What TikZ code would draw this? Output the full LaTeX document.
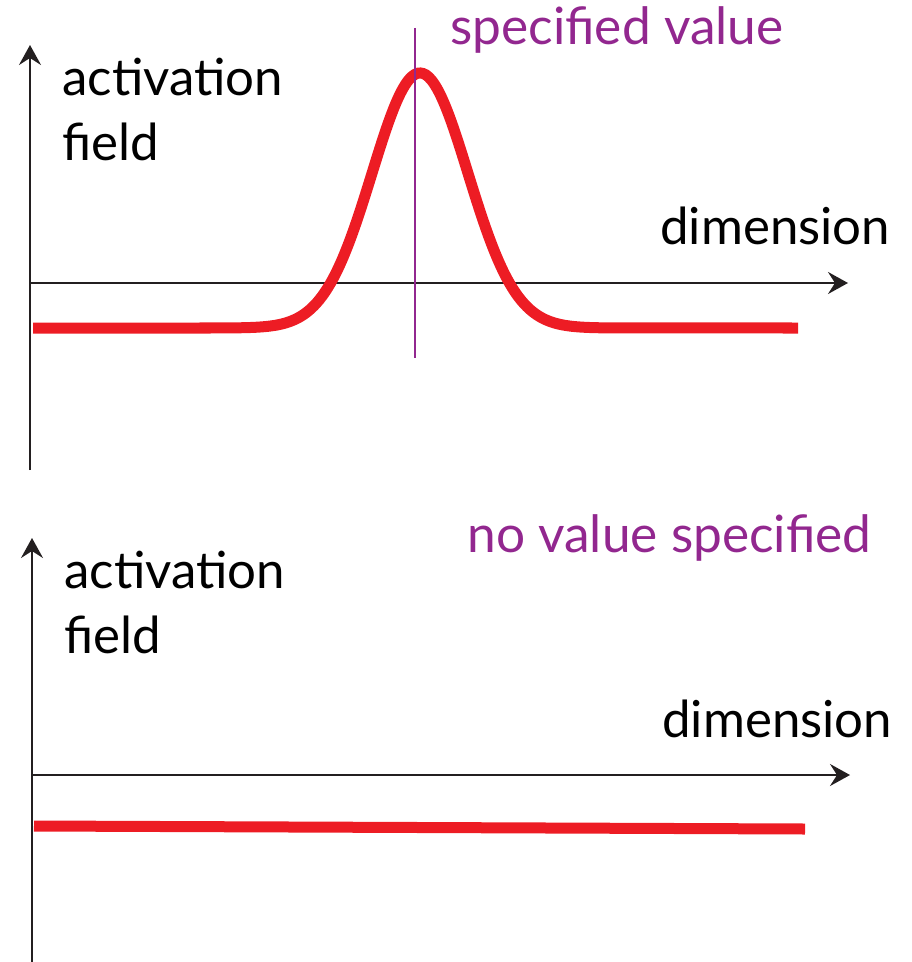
\documentclass[tikz,border=0pt]{standalone}
\usepackage{fontspec}
\setmainfont{Lato}
\usetikzlibrary{arrows.meta}
\definecolor{curvered}{HTML}{ED1C24}
\definecolor{labelpurple}{HTML}{92278F}
\definecolor{axisblack}{HTML}{231F20}
\begin{document}
\begin{tikzpicture}[x=0.5pt,y=0.5pt,
  axis/.style={draw=axisblack,line width=1.1pt,-{Stealth[length=10pt,width=11pt,inset=3.5pt]}},
  activity/.style={draw=curvered,line width=5.5pt},
  lbl/.style={font=\fontsize{25.5}{30}\selectfont,text=black,inner sep=0pt,anchor=base west},
  plbl/.style={font=\fontsize{25.7}{30}\selectfont,text=labelpurple,inner sep=0pt,anchor=base west}]
\useasboundingbox (0,0) rectangle (911,-962);
% ---------- top panel ----------
\coordinate (o1) at (30,-470);
\coordinate (ytip1) at (30,-45);
\coordinate (xs1) at (30,-283);
\coordinate (xtip1) at (848,-283);
\draw[axis] (o1) -- (ytip1);
\draw[axis] (xs1) -- (xtip1);
\coordinate (c1s) at (33,-328);
\coordinate (c1e) at (798,-328);
\draw[activity] (c1s) -- (205,-328) -- plot[domain=205:628,samples=160,smooth]
  (\x,{-(328-255*exp(-0.5*((\x-420)/48)^2))}) -- (c1e);
\coordinate (sv1) at (415,-28);
\coordinate (sv2) at (415,-358);
\draw[draw=labelpurple,line width=1pt] (sv1) -- (sv2);
\node[plbl] (spec) at (450,-45) {specified value};
\node[lbl] (act1) at (62,-96) {activation};
\node[lbl] (fld1) at (62,-161) {field};
\node[lbl] (dim1) at (660,-245) {dimension};
% ---------- bottom panel ----------
\coordinate (o2) at (32,-962);
\coordinate (ytip2) at (32,-538);
\coordinate (xs2) at (32,-775);
\coordinate (xtip2) at (850,-775);
\draw[axis] (o2) -- (ytip2);
\draw[axis] (xs2) -- (xtip2);
\coordinate (c2s) at (34,-826);
\coordinate (c2e) at (805,-829);
\draw[activity] (c2s) -- (c2e);
\node[plbl] (nospec) at (467,-552) {no value specified};
\node[lbl] (act2) at (64,-588) {activation};
\node[lbl] (fld2) at (64,-653) {field};
\node[lbl] (dim2) at (662,-737) {dimension};
\end{tikzpicture}
\end{document}
